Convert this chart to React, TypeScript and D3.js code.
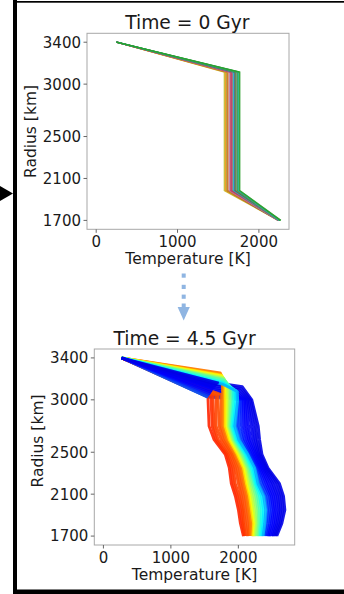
import React from "react";
import * as d3 from "d3";

const W = 344;
const H = 594;

// ---------- shared axis ticks ----------
const radiusTicks = [3400, 3000, 2500, 2100, 1700];
const tempTicks = [0, 1000, 2000];

// ---------- top panel: Time = 0 Gyr ----------
const earlyRadii = [3400, 3115, 1985, 1700];
const earlySurfaceT = 250;
const earlyMantleT = [1575, 1590, 1600, 1612, 1620, 1635, 1645, 1655, 1662, 1670, 1680, 1690, 1700, 1708, 1718, 1728, 1738, 1748, 1758, 1765];
const earlyCoreT = [2240, 2245, 2250, 2235, 2255, 2248, 2242, 2252, 2246, 2258, 2238, 2250, 2262, 2244, 2256, 2249, 2260, 2254, 2265, 2270];
const earlyColors = ["#bcbd22", "#ff7f0e", "#bcbd22", "#8c564b", "#ff7f0e", "#7f7f7f", "#e377c2", "#d62728", "#9467bd", "#d62728", "#7f7f7f", "#17becf", "#1f77b4", "#8c564b", "#2ca02c", "#7f7f7f", "#2ca02c", "#17becf", "#2ca02c", "#2ca02c"];

// ---------- bottom panel: Time = 4.5 Gyr ----------
const lateSurface: [number, number] = [270, 3400];
const lateMantleR = [3000, 2750, 2620, 2480, 2350, 2200, 2080, 1950, 1820, 1700];
// lid / boundary-layer points [T, R] between surface and mantle, in drawing order
const lateKinks: [number, number][][] = [
  [[1550, 3025], [1880, 3012]],
  [[1570, 3040], [1900, 3020]],
  [[1585, 3055], [1920, 3030]],
  [[1600, 3070], [1940, 3040]],
  [[1615, 3085], [1960, 3050]],
  [[1630, 3100], [1980, 3065]],
  [[1650, 3115], [2000, 3080]],
  [[1670, 3130], [2020, 3095]],
  [[1690, 3145], [2040, 3110]],
  [[1710, 3160], [2060, 3125]],
  [[1550, 3030]],
  [[1595, 3033]],
  [[1625, 3037]],
  [[1670, 3041]],
  [[1700, 3045]],
  [[1745, 3050]],
  [[1730, 3258], [1760, 3180]],
  [[1740, 3248], [1780, 3170]],
  [[1750, 3235], [1800, 3160]],
  [[1760, 3225], [1820, 3150]],
  [[1770, 3215], [1840, 3140]],
  [[1780, 3205], [1860, 3130]],
  [[1785, 3195], [1880, 3120]],
  [[1790, 3185], [1905, 3110]],
  [[1780, 3170], [1930, 3100]],
  [[1770, 3160], [1960, 3090]],
  [[1760, 3150], [1985, 3080]],
];
// mantle temperatures at lateMantleR
const lateMantleT: number[][] = [
  [2010, 1975, 2030, 2160, 2265, 2315, 2405, 2435, 2415, 2385],
  [2030, 2005, 2065, 2180, 2285, 2350, 2435, 2460, 2440, 2405],
  [2050, 2045, 2090, 2200, 2300, 2380, 2465, 2490, 2465, 2425],
  [2075, 2080, 2125, 2220, 2320, 2415, 2490, 2520, 2490, 2445],
  [2095, 2115, 2155, 2245, 2340, 2445, 2520, 2545, 2520, 2465],
  [2115, 2150, 2185, 2265, 2360, 2480, 2550, 2575, 2545, 2490],
  [2135, 2190, 2220, 2285, 2380, 2510, 2580, 2605, 2570, 2510],
  [2155, 2225, 2250, 2305, 2400, 2545, 2610, 2630, 2595, 2530],
  [2180, 2260, 2280, 2325, 2420, 2580, 2640, 2660, 2620, 2550],
  [2200, 2295, 2315, 2350, 2440, 2610, 2670, 2690, 2645, 2570],
  [1550, 1565, 1640, 1805, 1865, 1895, 1955, 2000, 2030, 2075],
  [1595, 1610, 1670, 1830, 1895, 1925, 1985, 2030, 2060, 2090],
  [1625, 1640, 1700, 1850, 1925, 1955, 2015, 2060, 2075, 2105],
  [1670, 1670, 1745, 1880, 1955, 2000, 2045, 2075, 2105, 2135],
  [1700, 1715, 1775, 1905, 1985, 2030, 2075, 2105, 2135, 2150],
  [1745, 1745, 1805, 1925, 2015, 2060, 2105, 2135, 2165, 2165],
  [1770, 1770, 1830, 1950, 2040, 2085, 2130, 2155, 2185, 2185],
  [1790, 1790, 1850, 1970, 2060, 2100, 2150, 2175, 2205, 2200],
  [1805, 1805, 1865, 1985, 2075, 2120, 2165, 2195, 2225, 2215],
  [1830, 1830, 1885, 2005, 2095, 2140, 2185, 2215, 2245, 2230],
  [1845, 1845, 1905, 2025, 2115, 2160, 2205, 2235, 2265, 2245],
  [1870, 1860, 1920, 2045, 2135, 2185, 2230, 2265, 2280, 2265],
  [1890, 1875, 1935, 2060, 2150, 2205, 2260, 2290, 2300, 2285],
  [1915, 1890, 1950, 2080, 2170, 2230, 2285, 2315, 2320, 2305],
  [1935, 1905, 1965, 2100, 2190, 2250, 2315, 2345, 2340, 2325],
  [1965, 1925, 1985, 2120, 2215, 2270, 2345, 2375, 2365, 2345],
  [1990, 1945, 2005, 2140, 2240, 2290, 2375, 2405, 2390, 2365],
];
// colormap position (jet) of each profile
const lateShade = [0.21, 0.18, 0.15, 0.13, 0.12, 0.12, 0.11, 0.11, 0.1, 0.1, 0.84, 0.83, 0.82, 0.81, 0.8, 0.79, 0.76, 0.74, 0.66, 0.62, 0.57, 0.53, 0.49, 0.45, 0.4, 0.36, 0.3];
// profiles whose lid segment is redrawn on top
const lateLidOnTop = [true, true, true, true, true, true, true, true, true, true, false, false, false, false, false, false, false, false, false, false, false, false, false, false, false, false, false];

function jet(v: number): string {
  const c = (t: number) => Math.round(255 * Math.max(0, Math.min(1, t)));
  const r = c(1.5 - Math.abs(4 * v - 3));
  const g = c(1.5 - Math.abs(4 * v - 2));
  const b = c(1.5 - Math.abs(4 * v - 1));
  return `rgb(${r},${g},${b})`;
}

const FONT = "'DejaVu Sans', sans-serif";
const TXT = "#1a1a1a";

type Frame = { x0: number; x1: number; y0: number; y1: number };

function Axes({ f, xs, ys, clipId, title, titleX, titleY, labelY, children }: any) {
  const fr = f as Frame;
  return (
    <g>
      <defs>
        <clipPath id={clipId}>
          <rect x={fr.x0} y={fr.y0} width={fr.x1 - fr.x0} height={fr.y1 - fr.y0} />
        </clipPath>
      </defs>
      <g clipPath={`url(#${clipId})`}>{children}</g>
      <rect x={fr.x0} y={fr.y0} width={fr.x1 - fr.x0} height={fr.y1 - fr.y0} fill="none" stroke="#a8a8a8" strokeWidth={1} />
      {radiusTicks.map((r) => (
        <g key={"r" + r}>
          <line x1={fr.x0 - 3.5} x2={fr.x0} y1={ys(r)} y2={ys(r)} stroke="#666" strokeWidth={1} />
          <text x={fr.x0 - 6} y={ys(r) + 5.4} textAnchor="end" fontFamily={FONT} fontSize={15} fill={TXT}>
            {r}
          </text>
        </g>
      ))}
      {tempTicks.map((t) => (
        <g key={"t" + t}>
          <line x1={xs(t)} x2={xs(t)} y1={fr.y1} y2={fr.y1 + 3.5} stroke="#666" strokeWidth={1} />
          <text x={xs(t)} y={fr.y1 + 17.5} textAnchor="middle" fontFamily={FONT} fontSize={15} fill={TXT}>
            {t}
          </text>
        </g>
      ))}
      <text x={(fr.x0 + fr.x1) / 2} y={fr.y1 + 34.7} textAnchor="middle" fontFamily={FONT} fontSize={15.5} fill={TXT}>
        Temperature [K]
      </text>
      <text
        transform={`translate(${fr.x0 - 51.5},${labelY}) rotate(-90)`}
        textAnchor="middle"
        fontFamily={FONT}
        fontSize={15.5}
        fill={TXT}
      >
        Radius [km]
      </text>
      <text x={titleX} y={titleY} textAnchor="middle" fontFamily={FONT} fontSize={18.7} fill={TXT}>
        {title}
      </text>
    </g>
  );
}

export default function App() {
  const topF: Frame = { x0: 87, x1: 289, y0: 33.3, y1: 229.3 };
  const botF: Frame = { x0: 94.3, x1: 294.7, y0: 349, y1: 545 };

  const xTop = d3.scaleLinear().domain([-113, 2370]).range([topF.x0, topF.x1]);
  const yTop = d3.scaleLinear().domain([1615, 3485]).range([topF.y1, topF.y0]);
  const xBot = d3.scaleLinear().domain([-135, 2835]).range([botF.x0, botF.x1]);
  const yBot = d3.scaleLinear().domain([1615, 3485]).range([botF.y1, botF.y0]);

  const lineTop = d3
    .line<[number, number]>()
    .x((d) => xTop(d[0]))
    .y((d) => yTop(d[1]));
  const lineBot = d3
    .line<[number, number]>()
    .x((d) => xBot(d[0]))
    .y((d) => yBot(d[1]));

  const earlyPaths = earlyMantleT.map((tm, i) => {
    const temps = [earlySurfaceT, tm, tm, earlyCoreT[i]];
    const pts = earlyRadii.map((r, j) => [temps[j], r] as [number, number]);
    return lineTop(pts) as string;
  });

  const latePts = lateMantleT.map((temps, i) => {
    const mantle = lateMantleR.map((r, j) => [temps[j], r] as [number, number]);
    return [lateSurface, ...lateKinks[i], ...mantle] as [number, number][];
  });

  return (
    <svg width={W} height={H} style={{ position: "absolute", left: 0, top: 0, background: "#fff" }}>
      <rect x={0} y={0} width={W} height={H} fill="#fff" />

      {/* frame decorations */}
      <rect x={13} y={0} width={4} height={H} fill="#000" />
      <rect x={13} y={1} width={W - 13} height={1.7} fill="#000" />
      <rect x={13} y={589.5} width={W - 13} height={4.5} fill="#000" />
      <polygon points="-1,185.5 13,193.5 -1,201.5" fill="#000" />

      {/* dotted arrow between panels */}
      <g fill="#8fb5e2">
        <rect x={181.7} y={273.5} width={4} height={4.2} />
        <rect x={181.7} y={284.8} width={4} height={4.2} />
        <rect x={181.7} y={294.6} width={4} height={4.2} />
        <rect x={181.7} y={303.5} width={4} height={5} />
        <polygon points="177.6,307 189.8,307 183.7,320.5" />
      </g>

      <Axes f={topF} xs={xTop} ys={yTop} clipId="clipTop" title="Time = 0 Gyr" titleX={187.3} titleY={29.3} labelY={131.5}>
        {earlyPaths.map((d, i) => (
          <path key={i} d={d} fill="none" stroke={earlyColors[i]} strokeWidth={1.3} strokeOpacity={0.85} />
        ))}
      </Axes>

      <Axes f={botF} xs={xBot} ys={yBot} clipId="clipBot" title="Time = 4.5 Gyr" titleX={184.5} titleY={345} labelY={441}>
        {latePts.map((pts, i) => (
          <path key={i} d={lineBot(pts) as string} fill="none" stroke={jet(lateShade[i])} strokeWidth={2.8} strokeOpacity={0.9} strokeLinejoin="round" />
        ))}
        {latePts.map((pts, i) =>
          lateLidOnTop[i] ? (
            <path key={"lid" + i} d={lineBot(pts.slice(0, 2)) as string} fill="none" stroke={jet(lateShade[i])} strokeWidth={2.6} strokeOpacity={0.9} />
          ) : null
        )}
      </Axes>
    </svg>
  );
}
